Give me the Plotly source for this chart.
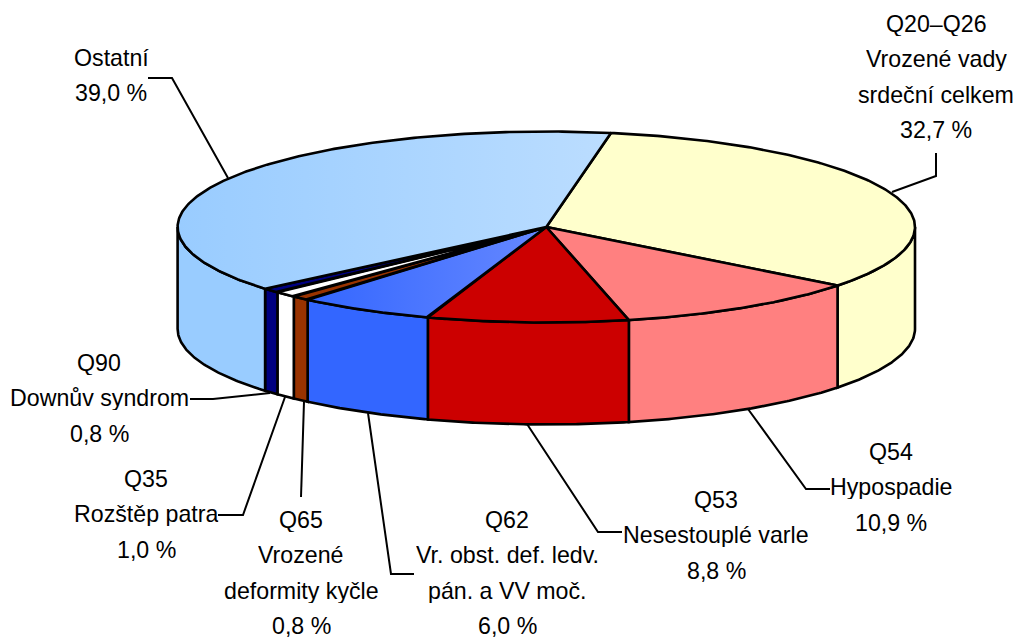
import numpy as np
import plotly.graph_objects as go

# ---- data -------------------------------------------------------------
codes = ["Q20–Q26", "Q54", "Q53", "Q62", "Q65", "Q35", "Q90", "Ostatní"]
values = [32.7, 10.9, 8.8, 6.0, 0.8, 1.0, 0.8, 39.0]
names = [
    ["Vrozené vady", "srdeční celkem"],
    ["Hypospadie"],
    ["Nesestouplé varle"],
    ["Vr. obst. def. ledv.", "pán. a VV moč."],
    ["Vrozené", "deformity kyčle"],
    ["Rozštěp patra"],
    ["Downův syndrom"],
    [],
]
pct_labels = ["32,7 %", "10,9 %", "8,8 %", "6,0 %", "0,8 %", "1,0 %", "0,8 %", "39,0 %"]

# ---- styles and layout (pixels) ---------------------------------------
side_colors = ["#FFFFCC", "#FF8080", "#CC0000", "#3366FF", "#993300", "#FFFFFF", "#000080", "#99CCFF"]
top_gradients = {3: ("#3366FF", "#6688FF"), 7: ("#99CCFF", "#BBDDFF")}
CX, CY, RX, RY, DEPTH = 546.3, 227.0, 368.7, 95.5, 102.0
START_DEG = 10.1
LW = 2.6
FONT = dict(family="Liberation Sans, Arial, sans-serif", size=23.2, color="#000000")
LINE_STEP = 35.3

label_pos = [(936, 24), (891, 452), (716, 500), (507, 520), (301, 520), (146, 479), (99, 363), (111, 58)]
leaders = [
    [(892, 192), (936, 176), (936, 153)],
    [(748, 409), (806, 489), (830, 489)],
    [(527, 424), (598, 532), (622, 532)],
    [(368, 413), (391, 574), (414, 574)],
    [(304, 402), (301, 497)],
    [(285, 397), (243, 515), (218, 515)],
    [(270, 393), (213, 399), (190, 399)],
    [(228, 178), (172, 78), (148, 78)],
]


def ell(deg):
    a = np.radians(deg)
    return CX + RX * np.sin(a), CY - RY * np.cos(a)


fig = go.Figure()
edges = START_DEG + np.concatenate([[0], np.cumsum(values)]) * 3.6 / (sum(values) / 100)

# outer walls: only the part of each slice facing the viewer
for i, col in enumerate(side_colors):
    a0, a1 = max(edges[i], 90), min(edges[i + 1], 270)
    if a1 <= a0:
        continue
    arc = np.linspace(a0, a1, 80)
    x, y = ell(arc)
    fig.add_trace(go.Scatter(
        x=np.concatenate([x, x[::-1], x[:1]]),
        y=np.concatenate([y, y[::-1] + DEPTH, y[:1]]),
        mode="lines", fill="toself", fillcolor=col,
        line=dict(color="#000000", width=LW), hoverinfo="skip",
    ))

# top faces
for i, col in enumerate(side_colors):
    arc = np.linspace(edges[i], edges[i + 1], 240)
    x, y = ell(arc)
    kw = dict(fillcolor=col)
    if i in top_gradients:
        c0, c1 = top_gradients[i]
        kw = dict(fillgradient=dict(type="horizontal", colorscale=[[0, c0], [1, c1]]))
    fig.add_trace(go.Scatter(
        x=np.concatenate([[CX], x, [CX]]),
        y=np.concatenate([[CY], y, [CY]]),
        mode="lines", fill="toself",
        line=dict(color="#000000", width=LW), hoverinfo="skip", **kw,
    ))

# leader lines
for pts in leaders:
    fig.add_trace(go.Scatter(
        x=[p[0] for p in pts], y=[p[1] for p in pts], mode="lines",
        line=dict(color="#000000", width=2), hoverinfo="skip",
    ))

# labels, one annotation per line for exact leading
for code, nm, pct, (lx, ly) in zip(codes, names, pct_labels, label_pos):
    for k, line in enumerate([code] + nm + [pct]):
        fig.add_annotation(x=lx, y=ly + k * LINE_STEP, text=line, showarrow=False,
                           xanchor="center", yanchor="middle", font=FONT, height=24)

fig.update_layout(
    width=1016, height=638, margin=dict(l=0, r=0, t=0, b=0),
    paper_bgcolor="white", plot_bgcolor="white", showlegend=False,
    xaxis=dict(range=[0, 1016], visible=False),
    yaxis=dict(range=[638, 0], visible=False),
)
fig.write_html("out.html", config=dict(displayModeBar=False),
               post_script="document.body.style.margin='0';document.body.style.overflow='hidden';")
